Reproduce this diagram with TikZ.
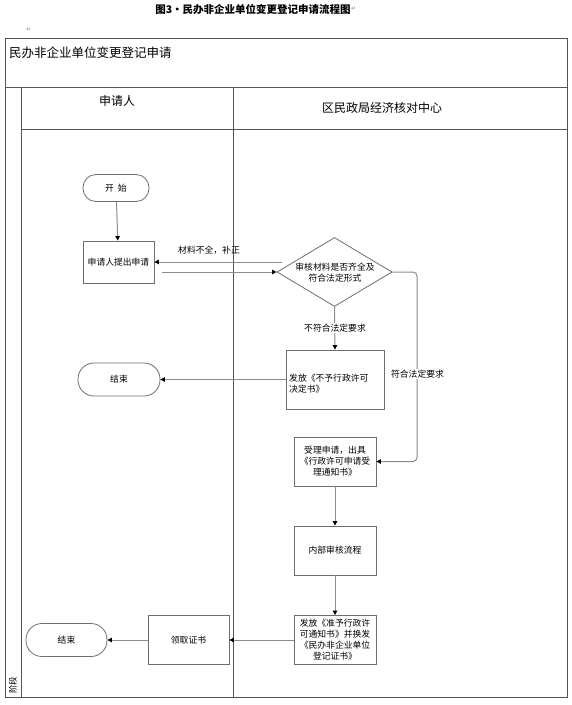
\documentclass[tikz,border=0pt]{standalone}
\usepackage{fontspec}
\setmainfont{Noto Sans CJK SC}
\newfontfamily\symfont{DejaVu Sans}
\usetikzlibrary{arrows.meta,shapes.geometric}
\definecolor{framec}{HTML}{555555}
\definecolor{boxc}{HTML}{6E6E6E}
\definecolor{linec}{HTML}{8C8C8C}
\begin{document}
\begin{tikzpicture}[x=1pt,y=-1pt,
  txt/.style={font=\fontsize{8.8}{11}\selectfont, inner sep=0pt},
  proc/.style={draw=boxc, line width=0.8pt, fill=white, minimum width=82pt, minimum height=49pt, inner sep=1pt, align=center, font=\fontsize{8.8}{11}\selectfont},
  term/.style={draw=boxc, line width=0.8pt, fill=white, rounded corners=16pt, minimum width=82pt, minimum height=33pt, inner sep=1pt, font=\fontsize{8.8}{11}\selectfont},
  conn/.style={draw=linec, line width=1pt, -{Triangle[length=4.5pt,width=4.5pt,color=black]}},
  lbl/.style={font=\fontsize{8.8}{11}\selectfont, fill=white, inner sep=1pt},
  hdr/.style={font=\fontsize{12}{14}\selectfont, inner sep=0pt},
  lane/.style={draw=framec, line width=0.8pt}
]
\useasboundingbox (0,0) rectangle (571,705);

% title
\node[font=\fontsize{10.5}{12}\selectfont\bfseries, inner sep=0pt] (title) at (253,9) {图3·民办非企业单位变更登记申请流程图};
\node[font=\symfont\fontsize{6}{7}\selectfont, text=gray, anchor=west, inner sep=0pt] (pm1) at (title.east) {↵};
\node[font=\symfont\fontsize{6}{7}\selectfont, text=gray, inner sep=0pt] (pm2) at (29,30) {↵};

% frame and lanes
\draw[lane] (5,38) rectangle (567,697);
\draw[lane] (5,87) -- (567,87);
\draw[lane] (21,87) -- (21,697);
\draw[lane] (21,129) -- (567,129);
\draw[lane] (233,87) -- (233,697);

\node[hdr, anchor=west, font=\fontsize{12.5}{14}\selectfont] (head) at (9,53) {民办非企业单位变更登记申请};
\node[hdr] (lane1) at (117,101) {申请人};
\node[hdr] (lane2) at (382,108) {区民政局经济核对中心};
\node[hdr, rotate=90, font=\fontsize{8.5}{10}\selectfont] (stage) at (13,685) {阶段};

% nodes
\node[term, minimum width=66pt, minimum height=27pt, rounded corners=13pt] (start) at (116,188) {开\ \ 始};
\node[proc, minimum width=71pt, minimum height=42pt] (apply) at (118.5,262) {申请人提出申请};
\node[draw=boxc, line width=0.8pt, fill=white, diamond, minimum width=115pt, minimum height=69pt, shape aspect=1.667, inner sep=0pt] (dia) at (334.5,272) {};
\node[txt, align=center] (diat) at (335,273) {审核材料是否齐全及\\符合法定形式};
\node[proc, minimum width=98pt, minimum height=59pt] (nogo) at (335,379.5) {};
\node[txt, align=left, anchor=west] (nogot) at (289,384) {发放《不予行政许可\\决定书》};
\node[term] (end1) at (119,379.5) {结束};
\node[proc] (accept) at (335,461.5) {受理申请，出具\\《行政许可申请受\\理通知书》};
\node[proc] (review) at (335,550.5) {内部审核流程};
\node[proc] (issue) at (335,640) {发放《准予行政许\\可通知书》并换发\\《民办非企业单位\\登记证书》};
\node[proc, minimum width=81pt] (collect) at (188.5,640) {领取证书};
\node[term, minimum width=81pt] (end2) at (66.5,640) {结束};

% connectors
\draw[conn] (start) -- (apply);
\coordinate (r1) at (282,262);
\draw[conn] (r1) -- (apply.east);
\node[lbl, fill=none] (l1) at (209,250) {材料不全，补正};
\draw[conn] ([xshift=8pt]apply.east |- dia.west) -- (dia.west);
\draw[conn] (dia.south) -- (nogo.north);
\node[lbl] (l2) at (335,328) {不符合法定要求};
\draw[conn] (nogo.west) -- (end1.east);
\coordinate (rb) at (417,0);
\draw[conn, rounded corners=4pt] (dia.east) -| (rb |- accept.east) -- (accept.east);
\node[lbl] (l3) at (417.5,374) {符合法定要求};
\draw[conn] (accept) -- (review);
\draw[conn] (review) -- (issue);
\draw[conn] (issue.west) -- (collect.east);
\draw[conn] (collect.west) -- (end2.east);
\end{tikzpicture}
\end{document}
